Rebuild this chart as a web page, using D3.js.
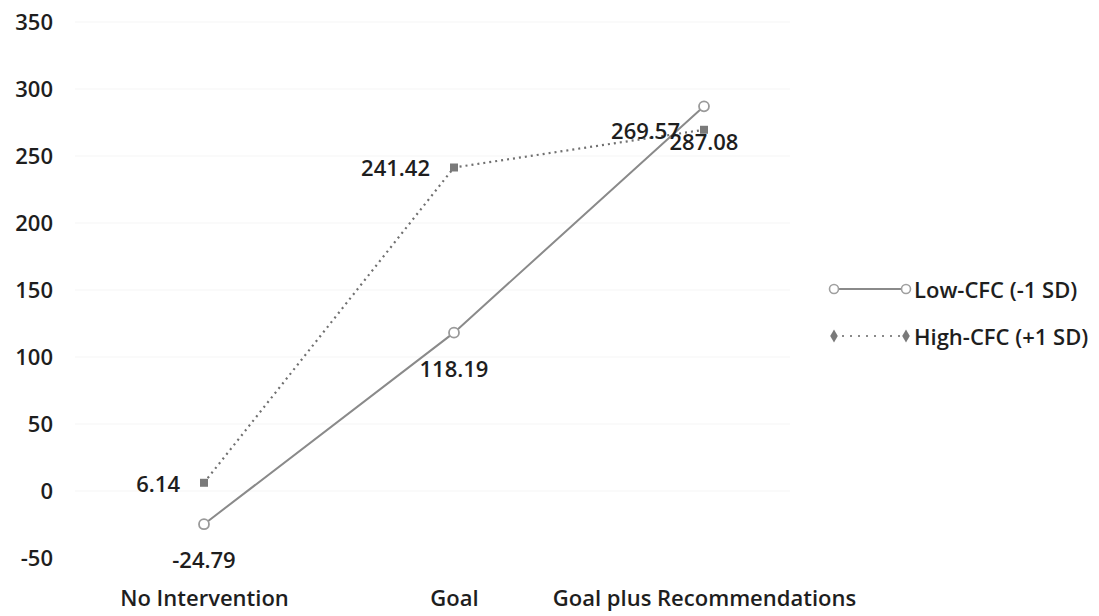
<!DOCTYPE html>
<html>
<head>
<meta charset="utf-8">
<script src="https://cdn.jsdelivr.net/npm/d3@7/dist/d3.min.js"></script>
<style>
  html, body { margin: 0; padding: 0; background: #fff; }
  svg text { font-family: "Open Sans", "DejaVu Sans", sans-serif; font-weight: 600; fill: #1e1e1e; }
</style>
</head>
<body>
<svg id="chart" width="1099" height="616"></svg>
<script>
// Conditions on the x axis
const categories = ["No Intervention", "Goal", "Goal plus Recommendations"];
// Estimated outcome for each CFC level
const lowCFC = [-24.79, 118.19, 287.08];
const highCFC = [6.14, 241.42, 269.57];
const seriesNames = ["Low-CFC (-1 SD)", "High-CFC (+1 SD)"];
const yTicks = [-50, 0, 50, 100, 150, 200, 250, 300, 350];

const FS = 22;
const svg = d3.select("#chart");

const x = d3.scalePoint().domain(categories).range([204, 704]);
const y = d3.scaleLinear().domain([-50, 350]).range([558, 22]);

// very faint horizontal gridlines
svg.append("g")
  .selectAll("line")
  .data(yTicks.filter(t => t > -50))
  .join("line")
  .attr("x1", 75).attr("x2", 790)
  .attr("y1", d => y(d)).attr("y2", d => y(d))
  .attr("stroke", "#f5f5f5")
  .attr("stroke-width", 1);

// y axis labels (plain hyphen for negatives)
const yAxis = d3.axisLeft(y).tickValues(yTicks).tickSize(0).tickPadding(0)
  .tickFormat(d => String(d));
svg.append("g")
  .attr("transform", "translate(53,0)")
  .call(yAxis)
  .call(g => g.select(".domain").remove())
  .call(g => g.selectAll("text")
    .attr("font-size", FS)
    .attr("dy", "0.36em")
    .style("font-family", "'Open Sans', sans-serif")
    .style("font-weight", 600)
    .attr("fill", "#1e1e1e"));

// x axis category labels
const xAxis = d3.axisBottom(x).tickSize(0).tickPadding(0);
svg.append("g")
  .attr("transform", "translate(0,589)")
  .call(xAxis)
  .call(g => g.select(".domain").remove())
  .call(g => g.selectAll("text")
    .attr("font-size", FS)
    .attr("dy", "0.75em")
    .style("font-family", "'Open Sans', sans-serif")
    .style("font-weight", 600)
    .attr("fill", "#1e1e1e"));

const line = d3.line().x((d, i) => x(categories[i])).y(d => y(d));

// Low-CFC: solid grey line with open circles
svg.append("path")
  .datum(lowCFC)
  .attr("d", line)
  .attr("fill", "none")
  .attr("stroke", "#8a8a8a")
  .attr("stroke-width", 2);

// High-CFC: dotted darker line with filled squares
svg.append("path")
  .datum(highCFC)
  .attr("d", line)
  .attr("fill", "none")
  .attr("stroke", "#707070")
  .attr("stroke-width", 2.2)
  .attr("stroke-dasharray", "2,4");

svg.append("g")
  .selectAll("circle")
  .data(lowCFC)
  .join("circle")
  .attr("cx", (d, i) => x(categories[i]))
  .attr("cy", d => y(d))
  .attr("r", 5)
  .attr("fill", "#fff")
  .attr("stroke", "#9a9a9a")
  .attr("stroke-width", 1.8);

svg.append("g")
  .selectAll("path")
  .data(highCFC)
  .join("path")
  .attr("d", d3.symbol(d3.symbolSquare, 64))
  .attr("transform", (d, i) => `translate(${x(categories[i])},${y(d)})`)
  .attr("fill", "#7a7a7a");

// value labels: low series below the point, high series to the left
svg.append("g")
  .selectAll("text")
  .data(lowCFC)
  .join("text")
  .attr("x", (d, i) => x(categories[i]))
  .attr("y", d => y(d) + 36)
  .attr("dy", "0.36em")
  .attr("text-anchor", "middle")
  .attr("font-size", FS)
  .text(d => d.toFixed(2));

svg.append("g")
  .selectAll("text")
  .data(highCFC)
  .join("text")
  .attr("x", (d, i) => x(categories[i]) - 24)
  .attr("y", d => y(d) + 1)
  .attr("dy", "0.36em")
  .attr("text-anchor", "end")
  .attr("font-size", FS)
  .text(d => d.toFixed(2));

// legend
const legend = svg.append("g").attr("transform", "translate(834,0)");
const legendY = [289, 336];

legend.append("line")
  .attr("x1", 0).attr("x2", 72).attr("y1", legendY[0]).attr("y2", legendY[0])
  .attr("stroke", "#8a8a8a").attr("stroke-width", 2);
legend.selectAll("circle.lg")
  .data([0, 72])
  .join("circle")
  .attr("class", "lg")
  .attr("cx", d => d).attr("cy", legendY[0]).attr("r", 4.5)
  .attr("fill", "#fff").attr("stroke", "#a0a0a0").attr("stroke-width", 1.6);

legend.append("line")
  .attr("x1", 0).attr("x2", 72).attr("y1", legendY[1]).attr("y2", legendY[1])
  .attr("stroke", "#8a8a8a").attr("stroke-width", 2).attr("stroke-dasharray", "2,6");
legend.selectAll("path.lg")
  .data([0, 72])
  .join("path")
  .attr("class", "lg")
  .attr("d", d3.symbol(d3.symbolDiamond, 50))
  .attr("transform", d => `translate(${d},${legendY[1]})`)
  .attr("fill", "#7a7a7a");

legend.selectAll("text")
  .data(seriesNames)
  .join("text")
  .attr("x", 80)
  .attr("y", (d, i) => legendY[i] + 1)
  .attr("dy", "0.36em")
  .attr("font-size", FS)
  .text(d => d);
</script>
</body>
</html>
